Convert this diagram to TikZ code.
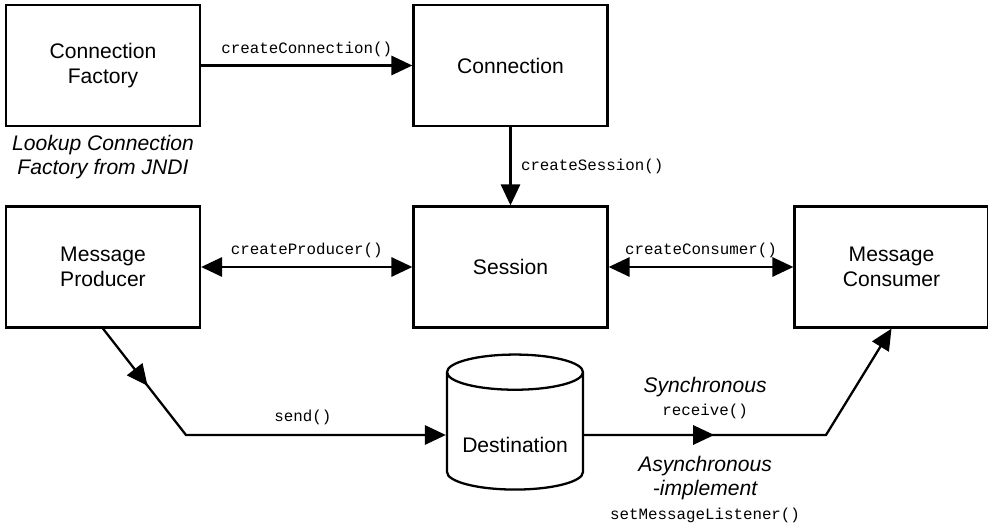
\documentclass[tikz,border=0pt]{standalone}
\usepackage{fontspec}
\setmainfont{Liberation Sans}
\setmonofont{Liberation Mono}
\usetikzlibrary{arrows.meta,positioning,shapes.geometric,decorations.markings}
\newcommand{\mcall}[1]{{\fontsize{9}{11}\selectfont\ttfamily\upshape #1}}
\tikzset{
  box/.style={draw, line width=1.3pt, minimum width=3.88cm, minimum height=2.42cm,
    align=center, font=\fontsize{12}{14}\selectfont},
  store/.style={draw, line width=1.3pt, cylinder, shape border rotate=90, aspect=0.3,
    minimum width=2.72cm, minimum height=2.7cm, font=\fontsize{12}{14}\selectfont,
    text height=1.6ex, text depth=0.4ex},
  link/.style={line width=1.3pt, -{Triangle[length=12pt,width=11pt]}},
  twoway/.style={line width=1.3pt, {Triangle[length=12pt,width=11pt]}-{Triangle[length=12pt,width=11pt]}},
  call/.style={font=\fontsize{9}{11}\selectfont\ttfamily},
  note/.style={font=\fontsize{12}{13.6}\selectfont\itshape, align=center},
  midarrow/.style={postaction={decorate}, decoration={markings,
    mark=at position #1 with {\arrow{Triangle[length=12pt,width=11pt]}}}}
}
\begin{document}
\begin{tikzpicture}
    \useasboundingbox (0,0) rectangle (19.76,10.56);
    \path (2.06,9.25) node (cf) [box] {Connection\\Factory}
    (10.21,9.25) node (conn) [box] {Connection}
    (2.06,5.22) node (mp) [box] {Message\\Producer}
    (10.21,5.22) node (sess) [box] {Session}
    (17.83,5.22) node (mc) [box] {Message\\Consumer}
    (10.30,1.86) node (dest) [store] {\raisebox{-7pt}{Destination}};
    \node (lookup) [note, below=1pt of cf] {Lookup Connection\\Factory from JNDI};
    \coordinate (bend1) at (3.72,1.86);
    \coordinate (bend2) at (16.52,1.86);
    \draw [link] (cf) -- node [call, above=1pt] {createConnection()} (conn);
    \draw [link] (conn) -- node [call, right=2pt] {createSession()} (sess);
    \draw [twoway] (mp) -- node [call, above=1pt] {createProducer()} (sess);
    \draw [twoway] (sess) -- node [call, above=1pt] {createConsumer()} (mc);
    \draw [link, midarrow=1.45cm] (mp.south) -- (bend1)
      -- node [call, above=2pt, pos=0.45] {send()} (dest);
    \draw [link, midarrow=2.6cm] (dest)
      -- node (sync) [note, above=5pt] {Synchronous\\\mcall{receive()}}
         node (async) [note, below=8pt] {Asynchronous\\-implement\\\mcall{setMessageListener()}} (bend2)
      -- (mc.south);
\end{tikzpicture}
\end{document}
